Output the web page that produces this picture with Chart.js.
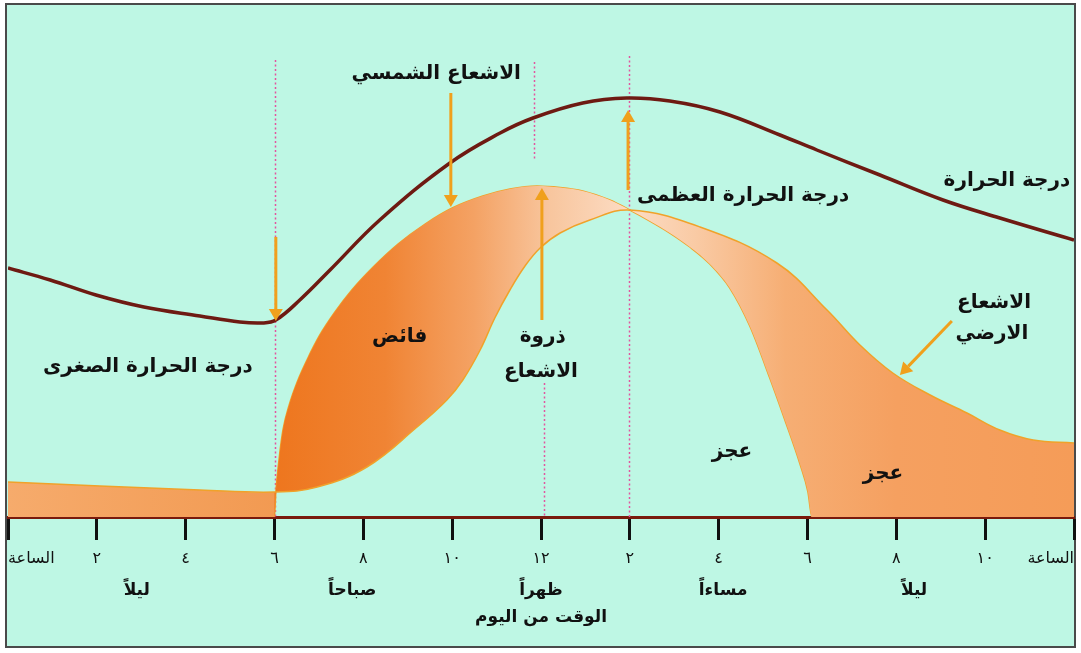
<!DOCTYPE html>
<html lang="ar">
<head>
<meta charset="utf-8">
<script src="https://cdn.jsdelivr.net/npm/chart.js@4.4.1/dist/chart.umd.min.js"></script>
<style>
  html, body { margin: 0; padding: 0; background: #fff; }
  canvas { display: block; }
</style>
</head>
<body>
<canvas id="heatChart" width="1081" height="653"></canvas>
<script>
// ساعات اليوم (0 = منتصف الليل) وقيم تقديرية مقروءة من الرسم
const hourTicks = [0, 2, 4, 6, 8, 10, 12, 14, 16, 18, 20, 22, 24];
const hourLabels = ['الساعة', '٢', '٤', '٦', '٨', '١٠', '١٢', '٢', '٤', '٦', '٨', '١٠', 'الساعة'];
const periodHours = [2.9, 7.75, 12, 16.1, 20.4];
const periodLabels = ['ليلاً', 'صباحاً', 'ظهراً', 'مساءاً', 'ليلاً'];

// درجة الحرارة
const tempHours = [0, 0.95, 1.98, 3.06, 4.32, 5.22, 5.72, 6.03, 6.57, 7.25, 8.37, 9.95, 11.08, 11.82, 12.94, 13.93, 14.9, 16.03, 17.38, 18.21, 19.63, 21.05, 22.33, 24];
const tempValues = [49.8, 47.4, 44.4, 42, 40.2, 39, 38.8, 39.4, 43.4, 49.4, 59.4, 70.8, 76.8, 79.8, 82.8, 83.8, 83.2, 81, 76.4, 73.4, 68.4, 63.4, 59.8, 55.4];

// الاشعاع الشمسي
const solarHours = [0, 3, 6, 6.03, 6.10, 6.19, 6.33, 6.51, 6.73, 7.02, 7.36, 7.74, 8.22, 8.78, 9.39, 10, 10.69, 11.3, 11.91, 12.43, 12.94, 13.55, 14, 14.45, 14.9, 15.35, 15.8, 16.25, 16.7, 17.15, 17.49, 17.83, 18.01, 18.1, 21, 24];
const solarValues = [0, 0, 0, 5, 11.4, 17.4, 22.4, 27, 31.4, 36.4, 41, 45.4, 50, 54.6, 58.6, 61.8, 64.2, 65.6, 66.2, 65.9, 65.2, 63.4, 61.4, 59.2, 56.8, 54, 50.6, 45.8, 38.2, 27.8, 19.4, 10.6, 5, 0, 0, 0];

// الاشعاع الارضي
const earthHours = [0, 2.07, 4.32, 6.01, 6.96, 8.08, 9.21, 9.88, 10.24, 10.63, 10.96, 11.3, 11.64, 11.98, 12.43, 13.1, 14, 15.58, 17.31, 18.44, 19.18, 19.92, 20.76, 21.59, 22.33, 23.08, 24];
const earthValues = [7, 6.2, 5.4, 5, 6, 10, 18, 23.4, 27.4, 33.4, 39.8, 45.4, 50.2, 53.8, 56.8, 59.4, 61.4, 58, 50.8, 41.4, 34.4, 28.8, 24.4, 20.8, 17.4, 15.4, 14.8];

const toPoints = (xs, ys) => xs.map((x, i) => ({ x: x, y: ys[i] }));

const AQUA = '#bef7e4';
const ORANGE_LINE = '#f0a22a';
const ARROW = '#f0a01c';
const FONT = "'DejaVu Sans', sans-serif";

// تدرج لون المساحات البرتقالية على طول محور الوقت
const fillStops = [
  [0, '#f6ab6c'], [5.98, '#f29a52'], [6.02, '#ee761e'], [8.5, '#f08434'],
  [10.5, '#f4a264'], [12.2, '#f8c69e'], [14, '#fcdcc4'], [15.5, '#f9caa4'],
  [17.5, '#f6ae74'], [20, '#f5a060'], [24, '#f59c58']
];

function fillGradient(c) {
  const chart = c.chart;
  if (!chart.chartArea) return fillStops[0][1];
  const x = chart.scales.x;
  const g = chart.ctx.createLinearGradient(x.getPixelForValue(0), 0, x.getPixelForValue(24), 0);
  fillStops.forEach(([h, col]) => g.addColorStop(h / 24, col));
  return g;
}

// النصوص على الرسم
const notes = [
  { text: 'الاشعاع الشمسي', h: 9.64, v: 88.6 },
  { text: 'درجة الحرارة العظمى', h: 16.55, v: 64.2 },
  { text: 'درجة الحرارة', h: 22.49, v: 67.2 },
  { text: 'الاشعاع', h: 22.2, v: 42.8 },
  { text: 'الارضي', h: 22.15, v: 36.6 },
  { text: 'درجة الحرارة الصغرى', h: 3.15, v: 30 },
  { text: 'فائض', h: 8.82, v: 36 },
  { text: 'ذروة', h: 12.04, v: 36 },
  { text: 'الاشعاع', h: 12, v: 29 },
  { text: 'عجز', h: 16.3, v: 13 },
  { text: 'عجز', h: 19.7, v: 8.6 }
];

// الاسهم: من (h1,v1) الى الرأس (h2,v2)
const arrows = [
  [6.03, 56, 6.03, 39.2],
  [9.97, 84.8, 9.97, 62],
  [12.02, 39.4, 12.02, 65.8],
  [13.96, 65.4, 13.96, 81.4],
  [21.25, 39.2, 20.08, 28.4]
];

// الخطوط المنقطة: [ساعة، من، الى]
const guides = [
  [6.02, 91.4, 0],
  [11.85, 91, 71.4],
  [12.06, 26.8, 0],
  [13.97, 92.2, 0]
];

const framePlugin = {
  id: 'frame',
  beforeDraw(chart) {
    const ctx = chart.ctx;
    ctx.save();
    ctx.fillStyle = '#fff';
    ctx.fillRect(0, 0, chart.width, chart.height);
    ctx.fillStyle = AQUA;
    ctx.fillRect(6, 4, 1069, 643);
    ctx.strokeStyle = '#4a4a4a';
    ctx.lineWidth = 2;
    ctx.strokeRect(6, 4, 1069, 643);
    ctx.restore();
  },
  beforeDatasetsDraw(chart) {
    const { ctx, scales: { x, y } } = chart;
    ctx.save();
    ctx.strokeStyle = '#e2559e';
    ctx.lineWidth = 1.5;
    ctx.setLineDash([2, 2.5]);
    guides.forEach(([h, v1, v2]) => {
      const px = Math.round(x.getPixelForValue(h)) + 0.5;
      ctx.beginPath();
      ctx.moveTo(px, y.getPixelForValue(v1));
      ctx.lineTo(px, y.getPixelForValue(v2));
      ctx.stroke();
    });
    ctx.restore();
  },
  afterDatasetsDraw(chart) {
    const { ctx, scales: { x, y } } = chart;
    ctx.save();
    // الاسهم
    ctx.strokeStyle = ARROW;
    ctx.fillStyle = ARROW;
    ctx.lineWidth = 3;
    arrows.forEach(([h1, v1, h2, v2]) => {
      const x1 = x.getPixelForValue(h1), y1 = y.getPixelForValue(v1);
      const x2 = x.getPixelForValue(h2), y2 = y.getPixelForValue(v2);
      const a = Math.atan2(y2 - y1, x2 - x1);
      const len = 12, half = 7;
      const bx = x2 - len * Math.cos(a), by = y2 - len * Math.sin(a);
      ctx.beginPath();
      ctx.moveTo(x1, y1);
      ctx.lineTo(bx, by);
      ctx.stroke();
      ctx.beginPath();
      ctx.moveTo(x2, y2);
      ctx.lineTo(bx + half * Math.sin(a), by - half * Math.cos(a));
      ctx.lineTo(bx - half * Math.sin(a), by + half * Math.cos(a));
      ctx.closePath();
      ctx.fill();
    });
    // النصوص
    ctx.fillStyle = '#111';
    ctx.font = 'bold 20px ' + FONT;
    ctx.textAlign = 'center';
    ctx.textBaseline = 'middle';
    notes.forEach(n => {
      ctx.fillText(n.text, x.getPixelForValue(n.h), y.getPixelForValue(n.v));
    });
    ctx.restore();
  }
};

new Chart(document.getElementById('heatChart'), {
  type: 'line',
  data: {
    datasets: [
      {
        label: 'درجة الحرارة',
        data: toPoints(tempHours, tempValues),
        borderColor: '#6e1a12',
        borderWidth: 3.5,
        fill: false,
        pointRadius: 0,
        tension: 0.4
      },
      {
        label: 'الاشعاع الارضي',
        data: toPoints(earthHours, earthValues),
        borderColor: ORANGE_LINE,
        borderWidth: 1.5,
        backgroundColor: fillGradient,
        fill: '+1',
        pointRadius: 0,
        tension: 0.4
      },
      {
        label: 'الاشعاع الشمسي',
        data: toPoints(solarHours, solarValues),
        borderColor: ORANGE_LINE,
        borderWidth: 1.5,
        fill: false,
        pointRadius: 0,
        cubicInterpolationMode: 'monotone'
      }
    ]
  },
  options: {
    responsive: false,
    animation: false,
    devicePixelRatio: 1,
    layout: { padding: { top: 17, left: 8, right: 7, bottom: 0 } },
    plugins: { legend: { display: false }, tooltip: { enabled: false } },
    scales: {
      y: { display: false, min: 0, max: 100 },
      x: {
        type: 'linear',
        position: 'bottom',
        weight: 0,
        z: 1,
        min: 0,
        max: 24,
        afterBuildTicks: s => { s.ticks = hourTicks.map(v => ({ value: v })); },
        afterFit: s => { s.height = 55; s.paddingLeft = 0; s.paddingRight = 0; },
        grid: { drawOnChartArea: false, tickLength: 23, tickWidth: 3, tickColor: '#111' },
        border: { color: '#7a1a0c', width: 3 },
        ticks: {
          autoSkip: false,
          maxRotation: 0,
          align: 'inner',
          padding: 9,
          color: '#111',
          font: { family: FONT, size: 16 },
          callback: (v, i) => hourLabels[i]
        }
      },
      x2: {
        type: 'linear',
        position: 'bottom',
        weight: 1,
        min: 0,
        max: 24,
        afterBuildTicks: s => { s.ticks = periodHours.map(v => ({ value: v })); },
        afterFit: s => { s.height = 81; s.paddingLeft = 0; s.paddingRight = 0; },
        grid: { display: false, drawTicks: false },
        border: { display: false },
        ticks: {
          autoSkip: false,
          maxRotation: 0,
          padding: 8,
          color: '#111',
          font: { family: FONT, size: 17, weight: 'bold' },
          callback: (v, i) => periodLabels[i]
        },
        title: {
          display: true,
          text: 'الوقت من اليوم',
          color: '#111',
          font: { family: FONT, size: 17, weight: 'bold' },
          padding: { top: 0, bottom: 25 }
        }
      }
    }
  },
  plugins: [framePlugin]
});
</script>
</body>
</html>
